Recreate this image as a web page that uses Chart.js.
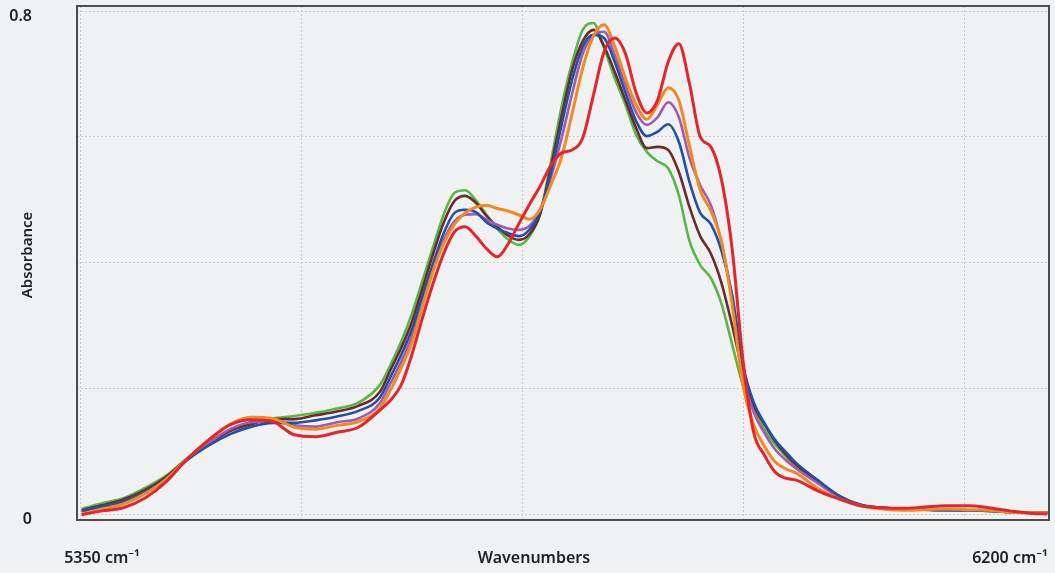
<!DOCTYPE html>
<html><head><meta charset="utf-8">
<script src="https://cdn.jsdelivr.net/npm/chart.js@4.4.1/dist/chart.umd.min.js"></script>
<style>html,body{margin:0;padding:0;background:#f0f1f3;overflow:hidden}canvas{display:block}</style>
</head><body>
<canvas id="c" width="1055" height="573"></canvas>
<script>
// ---- data (wavenumber in cm-1, absorbance) ----
const wavenumbers = [5331,5350,5370,5390,5410,5430,5450,5470,5490,5510,5530,5550,5570,5590,5610,
  5620,5630,5640,5650,5660,5670,5680,5690,5700,5710,5720,5730,5740,5750,5760,5770,5780,5790,5800,
  5810,5820,5830,5840,5850,5860,5870,5880,5890,5900,5910,5920,5930,5940,5950,5960,5970,5980,5990,6000,
  6020,6040,6060,6080,6100,6120,6140,6160,6180,6200,6220,6235];

const seriesGreen = [0.008,0.017,0.025,0.041,0.061,0.089,0.114,0.134,0.146,0.152,0.156,0.161,0.168,0.177,0.205,0.237,0.274,0.318,0.371,0.425,0.477,0.511,0.515,0.499,0.476,0.454,0.437,0.428,0.441,0.477,0.558,0.646,0.717,0.770,0.781,0.741,0.693,0.651,0.603,0.576,0.561,0.550,0.507,0.434,0.396,0.375,0.334,0.269,0.205,0.169,0.134,0.111,0.092,0.075,0.051,0.027,0.014,0.010,0.008,0.007,0.006,0.006,0.005,0.003,0.002,0.002];
const seriesBrown = [0.006,0.014,0.023,0.038,0.059,0.088,0.112,0.132,0.143,0.151,0.151,0.157,0.163,0.172,0.194,0.229,0.264,0.305,0.359,0.414,0.464,0.498,0.506,0.495,0.474,0.457,0.443,0.436,0.445,0.476,0.550,0.631,0.706,0.752,0.770,0.744,0.703,0.658,0.614,0.582,0.584,0.579,0.544,0.488,0.442,0.414,0.367,0.299,0.226,0.173,0.143,0.116,0.095,0.078,0.053,0.029,0.015,0.010,0.009,0.008,0.007,0.006,0.006,0.004,0.002,0.002];
const seriesPurple = [0.004,0.011,0.019,0.034,0.056,0.088,0.113,0.135,0.146,0.147,0.141,0.139,0.146,0.152,0.176,0.208,0.242,0.282,0.337,0.391,0.436,0.466,0.476,0.477,0.468,0.460,0.454,0.452,0.458,0.484,0.534,0.596,0.668,0.732,0.762,0.767,0.730,0.682,0.639,0.619,0.631,0.655,0.631,0.566,0.523,0.491,0.431,0.340,0.221,0.162,0.129,0.103,0.086,0.072,0.049,0.027,0.014,0.010,0.008,0.007,0.006,0.006,0.005,0.003,0.002,0.002];
const seriesBlue = [0.005,0.012,0.020,0.035,0.056,0.086,0.109,0.127,0.139,0.145,0.145,0.149,0.155,0.164,0.185,0.218,0.253,0.293,0.347,0.399,0.447,0.479,0.484,0.480,0.464,0.454,0.447,0.442,0.452,0.480,0.541,0.617,0.690,0.743,0.762,0.757,0.719,0.670,0.625,0.601,0.608,0.620,0.592,0.528,0.479,0.461,0.418,0.348,0.237,0.178,0.145,0.118,0.099,0.081,0.054,0.029,0.014,0.010,0.008,0.007,0.006,0.006,0.005,0.003,0.002,0.002];
const seriesOrange = [0.000,0.008,0.016,0.032,0.055,0.088,0.118,0.143,0.154,0.152,0.138,0.135,0.141,0.147,0.168,0.197,0.232,0.272,0.331,0.387,0.431,0.461,0.479,0.488,0.491,0.486,0.482,0.476,0.469,0.484,0.523,0.566,0.636,0.709,0.760,0.778,0.744,0.693,0.651,0.628,0.651,0.678,0.658,0.585,0.515,0.482,0.433,0.332,0.205,0.142,0.108,0.083,0.072,0.065,0.041,0.024,0.013,0.008,0.006,0.007,0.008,0.007,0.006,0.003,0.002,0.002];
const seriesRed = [-0.001,0.005,0.010,0.025,0.051,0.088,0.118,0.142,0.150,0.147,0.126,0.123,0.130,0.138,0.165,0.181,0.205,0.253,0.312,0.367,0.415,0.449,0.457,0.442,0.422,0.409,0.429,0.461,0.492,0.521,0.554,0.574,0.579,0.598,0.666,0.735,0.757,0.732,0.670,0.638,0.658,0.719,0.748,0.684,0.600,0.584,0.531,0.420,0.245,0.130,0.094,0.067,0.057,0.054,0.037,0.024,0.013,0.010,0.009,0.011,0.013,0.013,0.010,0.005,0.001,0.000];

const xTickLabels = [{value:5350, label:'5350 cm\u207B\u00B9'}, {value:6200, label:'6200 cm\u207B\u00B9'}];
const xGridValues = [5330.34, 5537.22, 5744.10, 5950.98, 6157.86];
const yTickValues = [0, 0.2, 0.4, 0.6, 0.8];
const yTickLabels = {0:'0', 0.8:'0.8'};
const xTitle = 'Wavenumbers';
const yTitle = 'Absorbance';

// ---- chart ----
const toPts = arr => wavenumbers.map((w,i)=>({x:w, y:arr[i]}));
const mk = (label, arr, color, w) => ({label, data:toPts(arr), borderColor:color, backgroundColor:color,
  borderWidth:w, pointRadius:0, fill:false, cubicInterpolationMode:'monotone'});

const GRID = '#c9cbcf';
const bgPlugin = {
  id:'bgframe',
  beforeDraw(chart){
    const c = chart.ctx; c.save(); c.fillStyle='#f0f1f3'; c.fillRect(0,0,chart.width,chart.height); c.restore();
  },
  beforeDatasetsDraw(chart){
    const a = chart.chartArea, c = chart.ctx;
    c.save(); c.strokeStyle='#4d4d4f'; c.lineWidth=2;
    c.strokeRect(a.left, a.top, a.right-a.left, a.bottom-a.top); c.restore();
  },
  afterDraw(chart){
    const c = chart.ctx;
    c.save(); c.fillStyle='#222'; c.textAlign='center'; c.textBaseline='middle';
    c.font='600 16px "Noto Sans"';
    c.fillText(xTitle, 534, 558);
    c.translate(28, 255); c.rotate(-Math.PI/2);
    c.font='600 15px "Noto Sans"';
    c.fillText(yTitle, 0, 0);
    c.restore();
  }
};

new Chart(document.getElementById('c'), {
  type:'line',
  data:{datasets:[
    mk('Red', seriesRed, '#e3262c', 3),
    mk('Orange', seriesOrange, '#f28a22', 3),
    mk('Blue', seriesBlue, '#2250a6', 2.6),
    mk('Purple', seriesPurple, '#a05bb4', 2.6),
    mk('Brown', seriesBrown, '#6b2b2b', 2.6),
    mk('Green', seriesGreen, '#58b745', 2.6)
  ]},
  options:{
    responsive:false, animation:false, devicePixelRatio:1,
    layout:{padding:{top:6, right:6, left:0, bottom:0}},
    plugins:{legend:{display:false}, tooltip:{enabled:false}},
    scales:{
      x:{type:'linear', min:5326.6, max:6236.5,
        afterBuildTicks(s){ s.ticks = xGridValues.concat(xTickLabels.map(t=>t.value)).sort((a,b)=>a-b).map(v=>({value:v})); },
        afterFit(s){ s.height = 53; s.paddingLeft = 0; s.paddingRight = 0; },
        grid:{drawTicks:false, lineWidth:1, color:(ctx)=> (ctx.tick && xGridValues.includes(ctx.tick.value)) ? GRID : 'rgba(0,0,0,0)'},
        border:{display:false, dash:[2,2]},
        ticks:{autoSkip:false, maxRotation:0, padding:29, color:'#222', font:{family:'"Noto Sans"', size:16, weight:'600'},
          callback:(v)=>{ const t = xTickLabels.find(t=>t.value===v); return t ? t.label : ''; }}
      },
      y:{type:'linear', min:-0.0095, max:0.808,
        afterBuildTicks(s){ s.ticks = yTickValues.map(v=>({value:v})); },
        afterFit(s){ s.width = 77; s.paddingTop = 0; s.paddingBottom = 0; },
        grid:{drawTicks:false, lineWidth:1, color:GRID},
        border:{display:false, dash:[2,2]},
        ticks:{padding:45, labelOffset:5, color:'#222', font:{family:'"Noto Sans"', size:16, weight:'600'},
          callback:(v)=> (yTickLabels[v] !== undefined ? yTickLabels[v] : '')}
      }
    }
  },
  plugins:[bgPlugin]
});
</script>
</body></html>
